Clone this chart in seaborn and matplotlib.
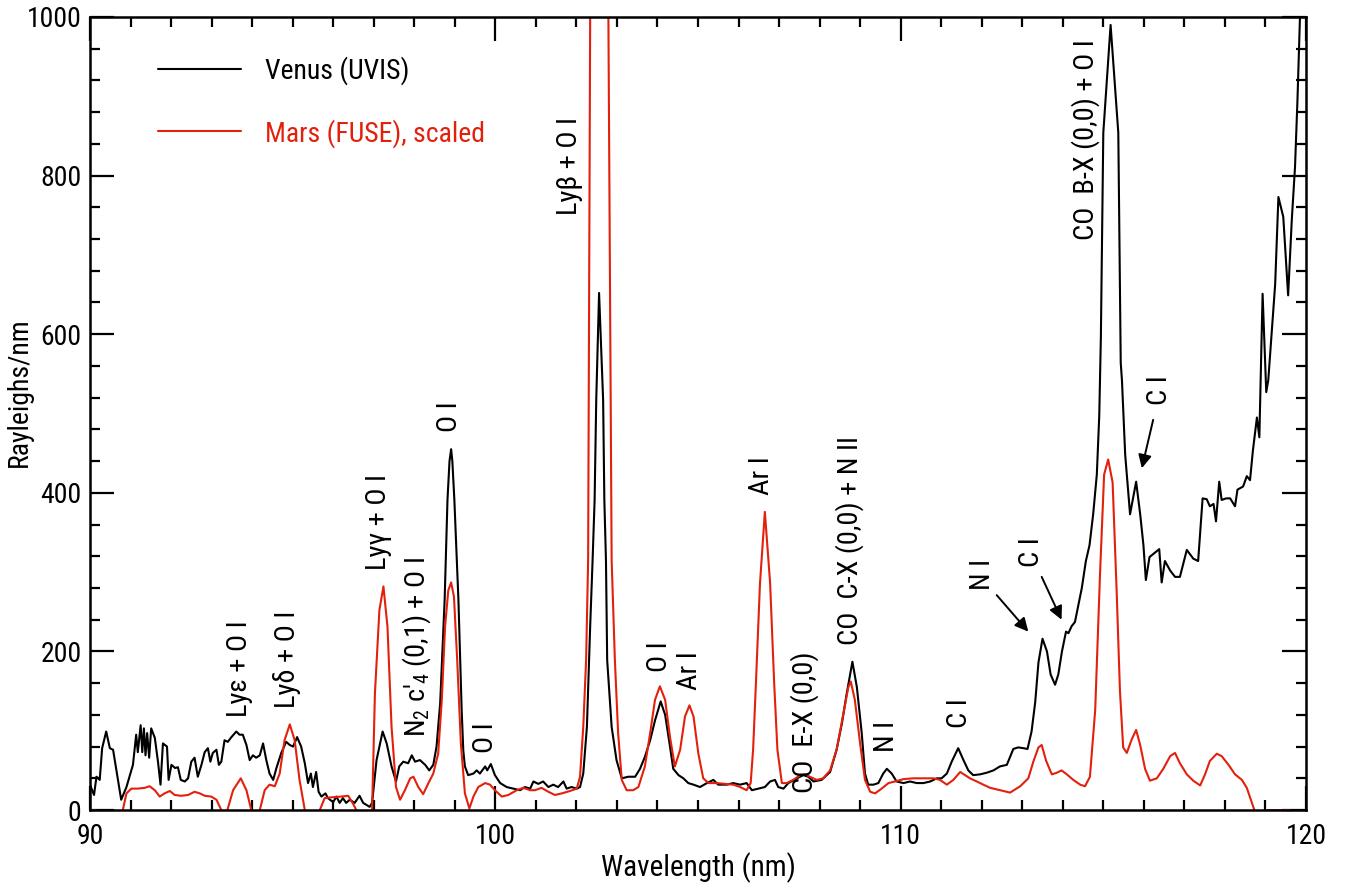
import matplotlib
matplotlib.use("Agg")
import matplotlib.pyplot as plt
import seaborn as sns
import pandas as pd

# Venus dayglow spectrum (Cassini UVIS), Rayleighs/nm
venus_wl = [
    90.00, 90.10, 90.16, 90.24, 90.30, 90.40, 90.49, 90.57, 90.77, 90.90,
    91.06, 91.14, 91.18, 91.25, 91.29, 91.33, 91.37, 91.41, 91.46, 91.51,
    91.60, 91.68, 91.74, 91.80, 91.90, 91.94, 92.01, 92.10, 92.17, 92.24,
    92.34, 92.42, 92.50, 92.58, 92.66, 92.75, 92.83, 92.91, 92.97, 93.03,
    93.12, 93.18, 93.24, 93.32, 93.40, 93.49, 93.61, 93.69, 93.77, 93.86,
    93.94, 94.02, 94.10, 94.19, 94.27, 94.35, 94.43, 94.52, 94.60, 94.72,
    94.84, 94.93, 95.01, 95.11, 95.21, 95.30, 95.38, 95.45, 95.50, 95.58,
    95.64, 95.71, 95.81, 95.87, 96.00, 96.08, 96.16, 96.24, 96.32, 96.41,
    96.53, 96.65, 96.74, 96.90, 96.96, 97.07, 97.22, 97.32, 97.44, 97.55,
    97.63, 97.73, 97.85, 97.94, 98.02, 98.14, 98.27, 98.37, 98.47, 98.55,
    98.64, 98.75, 98.82, 98.87, 98.91, 98.94, 98.99, 99.09, 99.17, 99.21,
    99.25, 99.33, 99.46, 99.54, 99.62, 99.75, 99.80, 99.89, 99.99, 100.12,
    100.28, 100.44, 100.61, 100.73, 100.86, 100.94, 101.06, 101.18, 101.31, 101.43,
    101.55, 101.68, 101.76, 101.88, 102.01, 102.09, 102.17, 102.26, 102.34, 102.40,
    102.45, 102.49, 102.56, 102.66, 102.69, 102.73, 102.76, 102.87, 102.99, 103.12,
    103.28, 103.45, 103.57, 103.69, 103.82, 103.94, 104.08, 104.19, 104.31, 104.39,
    104.52, 104.64, 104.76, 104.89, 105.05, 105.22, 105.38, 105.50, 105.71, 105.87,
    106.04, 106.20, 106.33, 106.49, 106.65, 106.78, 106.90, 106.98, 107.11, 107.23,
    107.44, 107.60, 107.72, 107.85, 108.05, 108.26, 108.42, 108.55, 108.67, 108.81,
    108.92, 109.04, 109.12, 109.20, 109.33, 109.45, 109.57, 109.66, 109.78, 109.90,
    110.07, 110.23, 110.40, 110.56, 110.73, 110.89, 111.01, 111.14, 111.26, 111.42,
    111.55, 111.67, 111.79, 111.96, 112.12, 112.29, 112.45, 112.62, 112.70, 112.78,
    112.90, 113.03, 113.13, 113.23, 113.32, 113.40, 113.50, 113.61, 113.70, 113.81,
    113.89, 113.98, 114.08, 114.14, 114.22, 114.30, 114.38, 114.47, 114.57, 114.66,
    114.75, 114.84, 114.90, 114.94, 115.00, 115.18, 115.37, 115.43, 115.46, 115.54,
    115.66, 115.81, 115.91, 115.99, 116.05, 116.14, 116.38, 116.44, 116.52, 116.65,
    116.77, 116.89, 117.06, 117.22, 117.34, 117.45, 117.55, 117.63, 117.72, 117.78,
    117.86, 117.92, 118.03, 118.13, 118.25, 118.31, 118.45, 118.54, 118.62, 118.69,
    118.79, 118.85, 118.93, 119.02, 119.07, 119.24, 119.32, 119.44, 119.56, 119.65,
    119.73, 119.79, 119.84, 119.90, 119.98,
]
venus_rn = [
    32, 19, 42, 38, 78, 99, 78, 76, 13, 29,
    57, 95, 73, 107, 73, 103, 69, 97, 66, 103,
    91, 60, 32, 84, 80, 38, 57, 53, 54, 38,
    36, 40, 61, 66, 42, 57, 73, 78, 61, 72,
    76, 57, 61, 88, 86, 92, 99, 95, 95, 82,
    63, 69, 66, 69, 84, 63, 46, 38, 53, 72,
    86, 82, 80, 92, 80, 59, 34, 46, 29, 48,
    23, 17, 21, 15, 10, 17, 9, 15, 9, 13,
    9, 18, 9, 4, 9, 63, 99, 84, 55, 36,
    55, 61, 59, 69, 61, 63, 57, 50, 57, 80,
    135, 265, 391, 440, 455, 440, 391, 265, 126, 75,
    55, 44, 46, 50, 46, 55, 50, 58, 44, 34,
    29, 27, 25, 29, 27, 36, 33, 36, 29, 32,
    29, 36, 27, 29, 27, 29, 46, 105, 231, 315,
    391, 517, 652, 517, 391, 315, 189, 105, 63, 40,
    42, 42, 52, 67, 88, 113, 137, 120, 80, 52,
    44, 40, 34, 32, 29, 34, 38, 32, 32, 34,
    32, 34, 25, 27, 29, 36, 38, 29, 27, 34,
    40, 44, 42, 36, 38, 48, 76, 109, 147, 187,
    155, 97, 46, 32, 32, 34, 46, 52, 46, 36,
    34, 36, 34, 34, 36, 40, 40, 46, 61, 78,
    63, 50, 44, 45, 47, 50, 55, 57, 67, 77,
    79, 78, 77, 99, 136, 186, 216, 200, 171, 158,
    171, 200, 225, 223, 232, 237, 257, 280, 314, 334,
    373, 423, 497, 596, 854, 990, 854, 564, 542, 448,
    373, 414, 373, 334, 290, 319, 329, 287, 314, 302,
    294, 294, 328, 317, 314, 393, 392, 383, 386, 364,
    414, 391, 393, 393, 383, 404, 408, 421, 416, 453,
    495, 470, 651, 527, 542, 663, 773, 748, 649, 744,
    811, 895, 980, 1080, 1150,
]

# Mars dayglow spectrum (FUSE), scaled to the Venus brightness
mars_wl = [
    90.00, 90.15, 90.25, 90.69, 90.81, 90.90, 91.02, 91.18, 91.35, 91.47,
    91.60, 91.72, 91.84, 91.97, 92.09, 92.25, 92.42, 92.58, 92.71, 92.83,
    92.99, 93.12, 93.24, 93.31, 93.39, 93.53, 93.72, 93.86, 93.98, 94.07,
    94.19, 94.31, 94.43, 94.56, 94.68, 94.80, 94.93, 95.05, 95.17, 95.30,
    95.48, 95.67, 95.79, 95.95, 96.20, 96.37, 96.49, 96.57, 96.76, 96.96,
    97.03, 97.14, 97.24, 97.34, 97.44, 97.55, 97.65, 97.77, 97.90, 97.98,
    98.10, 98.22, 98.35, 98.47, 98.59, 98.68, 98.76, 98.84, 98.91, 98.98,
    99.06, 99.15, 99.25, 99.36, 99.46, 99.58, 99.75, 99.87, 99.99, 100.16,
    100.32, 100.53, 100.69, 100.86, 100.98, 101.14, 101.31, 101.47, 101.64, 101.84,
    102.01, 102.09, 102.17, 102.24, 102.29, 102.34, 102.56, 102.79, 102.87, 102.95,
    103.03, 103.12, 103.24, 103.40, 103.53, 103.69, 103.82, 103.94, 104.06, 104.19,
    104.31, 104.43, 104.56, 104.68, 104.79, 104.89, 105.01, 105.13, 105.26, 105.46,
    105.67, 105.87, 106.04, 106.20, 106.30, 106.36, 106.43, 106.53, 106.65, 106.78,
    106.88, 106.96, 107.07, 107.19, 107.35, 107.52, 107.64, 107.76, 107.93, 108.09,
    108.26, 108.42, 108.59, 108.71, 108.77, 108.87, 109.00, 109.12, 109.25, 109.37,
    109.53, 109.70, 109.86, 110.07, 110.31, 110.56, 110.81, 110.97, 111.14, 111.30,
    111.47, 111.59, 111.71, 111.88, 112.04, 112.21, 112.45, 112.70, 112.95, 113.15,
    113.28, 113.40, 113.48, 113.59, 113.73, 113.85, 113.97, 114.10, 114.26, 114.43,
    114.55, 114.67, 114.80, 114.92, 115.02, 115.12, 115.23, 115.33, 115.41, 115.49,
    115.58, 115.70, 115.81, 115.91, 116.03, 116.15, 116.32, 116.48, 116.65, 116.77,
    116.89, 117.06, 117.22, 117.39, 117.51, 117.63, 117.80, 117.92, 118.09, 118.25,
    118.42, 118.54, 118.66, 118.74, 118.86, 119.06, 119.61,
]
mars_rn = [
    0, 0, -30, -30, 0, 21, 27, 27, 28, 30,
    25, 17, 21, 24, 19, 18, 19, 23, 21, 18,
    17, 13, 0, -20, 0, 25, 40, 25, 0, -20,
    0, 25, 32, 30, 46, 88, 108, 88, 38, 0,
    -30, 0, 15, 16, 17, 18, 8, 0, -30, 0,
    147, 252, 282, 231, 105, 29, 13, 25, 40, 42,
    29, 20, 34, 46, 71, 139, 231, 277, 287, 269,
    189, 84, 21, 2, 17, 29, 34, 32, 25, 17,
    19, 25, 28, 25, 25, 28, 23, 19, 21, 24,
    27, 42, 105, 189, 315, 1000, 3500, 1000, 315, 189,
    97, 38, 25, 25, 29, 55, 97, 139, 156, 139,
    92, 55, 76, 118, 132, 118, 71, 40, 34, 34,
    33, 32, 29, 25, 34, 76, 160, 286, 376, 286,
    160, 76, 34, 34, 38, 44, 45, 42, 38, 40,
    50, 76, 122, 155, 162, 139, 84, 38, 23, 21,
    27, 34, 36, 39, 40, 40, 40, 38, 32, 38,
    48, 44, 40, 36, 32, 28, 25, 22, 30, 40,
    62, 79, 82, 62, 45, 47, 50, 45, 38, 32,
    30, 42, 126, 299, 423, 442, 413, 275, 151, 79,
    72, 89, 101, 82, 52, 37, 40, 52, 68, 72,
    59, 45, 37, 31, 45, 62, 71, 68, 57, 45,
    38, 28, 10, -2, -15, 0, 0,
]

# Emission feature labels: text, wavelength, base of label (Rayleighs/nm)
line_labels = ["Ly\u03b5 + O I", "Ly\u03b4 + O I", "Ly\u03b3 + O I",
               r"N$_\mathregular{2}$ c'$_\mathregular{4}$ (0,1) + O I",
               "O I", "O I", "Ly\u03b2 + O I", "O I", "Ar I", "Ar I",
               "CO  E-X (0,0)", "CO  C-X (0,0) + N II", "N I", "C I",
               "N I", "C I", "C I", "CO  B-X (0,0) + O I"]
label_wl = [93.70, 94.86, 97.13, 98.07, 98.88, 99.77, 101.82, 104.04, 104.78,
            106.56, 107.64, 108.73, 109.66, 111.44, 112.01, 113.22, 116.38, 114.57]
label_base = [117, 129, 303, 92, 477, 72, 750, 174, 151, 397, 21, 208, 73,
              103, 277, 306, 511, 719]

# Arrows from a label to its feature: tail and head positions
arrow_tail_wl = [112.37, 113.48, 116.23]
arrow_tail_rn = [271, 294, 492]
arrow_head_wl = [113.15, 113.97, 115.95]
arrow_head_rn = [225, 240, 431]

RED = "#e3200c"
FONTS = ["Roboto Condensed", "Archivo Narrow", "DejaVu Sans"]

sns.set_style("ticks")
plt.rcParams["font.family"] = FONTS
plt.rcParams["mathtext.fontset"] = "custom"
plt.rcParams["mathtext.rm"] = FONTS[0]
plt.rcParams["mathtext.it"] = FONTS[0]
plt.rcParams["text.color"] = "black"
plt.rcParams["axes.labelcolor"] = "black"
plt.rcParams["xtick.color"] = "black"
plt.rcParams["ytick.color"] = "black"
plt.rcParams["axes.edgecolor"] = "black"

fig = plt.figure(figsize=(13.49, 8.85), dpi=100)
ax = fig.add_axes([0.0667, 0.0847, 0.9014, 0.8961])

venus = pd.DataFrame({"wl": venus_wl, "rn": venus_rn})
mars = pd.DataFrame({"wl": mars_wl, "rn": mars_rn})

sns.lineplot(data=venus, x="wl", y="rn", ax=ax, color="black", lw=1.5,
             estimator=None, sort=False, label="Venus (UVIS)")
sns.lineplot(data=mars, x="wl", y="rn", ax=ax, color=RED, lw=1.5,
             estimator=None, sort=False, label="Mars (FUSE), scaled")

ax.set_xlim(90, 120)
ax.set_ylim(0, 1000)
ax.set_xticks([90, 100, 110, 120])
ax.set_yticks([0, 200, 400, 600, 800, 1000])
ax.set_xticks([x for x in range(91, 120) if x % 10], minor=True)
ax.set_yticks([y for y in range(40, 1000, 40) if y % 200], minor=True)
ax.tick_params(which="both", direction="in", top=True, right=True,
               width=1.6, labelsize=20)
ax.tick_params(axis="y", pad=6)
ax.tick_params(axis="x", pad=9)
ax.tick_params(which="major", length=17)
ax.tick_params(which="minor", length=7)
for sp in ax.spines.values():
    sp.set_linewidth(1.8)

ax.set_xlabel("Wavelength (nm)", fontsize=21, labelpad=2)
ax.set_ylabel("Rayleighs/nm", fontsize=20)
ax.yaxis.set_label_coords(-0.047, 0.527)

for txt, wl, base in zip(line_labels, label_wl, label_base):
    ax.text(wl, base, txt, rotation=90, ha="center", va="bottom", fontsize=20.5)

for tx, ty, hx, hy in zip(arrow_tail_wl, arrow_tail_rn, arrow_head_wl, arrow_head_rn):
    ax.annotate("", xy=(hx, hy), xytext=(tx, ty),
                arrowprops=dict(arrowstyle="-|>", color="black", lw=1.4,
                                mutation_scale=20, shrinkA=0, shrinkB=0))

leg = ax.legend(loc="upper left", bbox_to_anchor=(0.056, 0.950), frameon=False,
                fontsize=20, handlelength=3.0, handletextpad=0.85,
                labelspacing=1.2, borderaxespad=0, borderpad=0,
                labelcolor="linecolor")

fig.savefig("out.png", dpi=100)
